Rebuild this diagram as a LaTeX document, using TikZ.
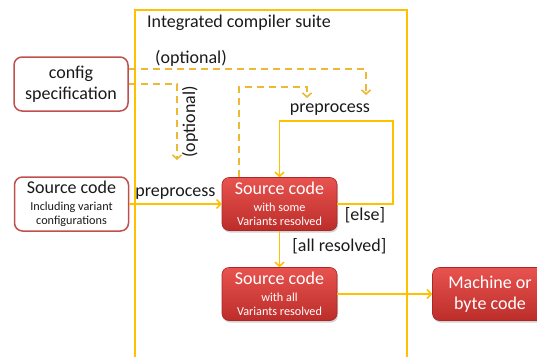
\documentclass[tikz,border=0pt]{standalone}
\usepackage{fontspec}
\setmainfont{Carlito}
\usetikzlibrary{arrows.meta,shadows}
\definecolor{gold}{HTML}{FFC000}
\definecolor{dgold}{HTML}{EDB935}
\definecolor{boxred}{HTML}{C0504D}
\definecolor{redtop}{HTML}{E8534F}
\definecolor{redbot}{HTML}{BC2D2A}
\definecolor{ink}{HTML}{1A1A1A}
\newcommand{\bigf}{\fontsize{18}{21.5}\selectfont}
\newcommand{\smallf}{\fontsize{12.2}{14}\selectfont}
\begin{document}
\begin{tikzpicture}[x=1pt,y=-1pt,
  lbl/.style={text=ink,font=\bigf,inner sep=0pt},
  whitebox/.style={draw=boxred,line width=1.5pt,fill=white,rounded corners=8pt,
    minimum width=114pt,minimum height=54pt,align=center,text=ink,font=\bigf,inner sep=1pt},
  redbox/.style={draw=redbot!90!black,line width=0.6pt,top color=redtop,bottom color=redbot,
    rounded corners=7pt,minimum width=115pt,minimum height=53pt,align=center,text=white,
    font=\bigf,inner sep=1pt,
    drop shadow={opacity=0.35,shadow xshift=1pt,shadow yshift=-2pt}},
  conn/.style={draw=gold,line width=1.8pt,-{Straight Barb[length=4pt,width=9pt,line width=1.6pt]}},
  dconn/.style={draw=dgold,line width=1.8pt,dash pattern=on 7pt off 5pt,
    -{Straight Barb[length=4pt,width=9pt,line width=1.6pt]}}]
\useasboundingbox (0,0) rectangle (537,356);

% compiler suite frame, open at the bottom
\draw[gold,line width=1.8pt] (135,360) -- (135,10) -- (407,10) -- (407,360);
\node[lbl,anchor=west] (suite) at (147,23) {Integrated compiler suite};

% inputs
\node[whitebox] (config) at (71,84) {config\\specification};
\node[whitebox] (src) at (71.5,204) {Source code\\[-5pt]\smallf Including variant\\[-7.5pt]\smallf configurations};

% intermediate and final artefacts
\node[redbox] (n1) at (279.5,204) {Source code\\[-5pt]\smallf with some\\[-7.5pt]\smallf Variants resolved};
\node[redbox] (n2) at (279.5,294) {Source code\\[-5pt]\smallf with all\\[-7.5pt]\smallf Variants resolved};
\node[redbox] (n3) at (490,294) {Machine or\\byte code};

% main flow
\draw[conn] (src) -- node[lbl,above=4pt] (pp1) {preprocess} (n1);
\draw[conn] (n1) -- node[lbl,right=12pt,pos=0.42] (allres) {[all resolved]} (n2);
\draw[conn] (n2) -- (n3);

% repeated preprocessing loop
\coordinate (lp) at (393,121);
\draw[conn] (n1.east) -| (lp) -| (n1.north);
\node[lbl] (pp2) at (330,110) {preprocess};
\node[lbl] (else) at (365,215) {[else]};

% optional configuration inputs
\coordinate (d1) at (366,95);
\coordinate (d2) at (177,160);
\coordinate (d3) at (307,98);
\draw[dconn] (config.east |- 0,69) -| (d1);
\node[lbl] (opt1) at (191,58) {(optional)};
\draw[dconn] (config.east |- 0,84) -| (d2);
\node[lbl,rotate=90] (opt2) at (190,122) {(optional)};
\draw[dconn] (n1.north -| 239,0) |- (307,87) -- (d3);
\end{tikzpicture}
\end{document}
